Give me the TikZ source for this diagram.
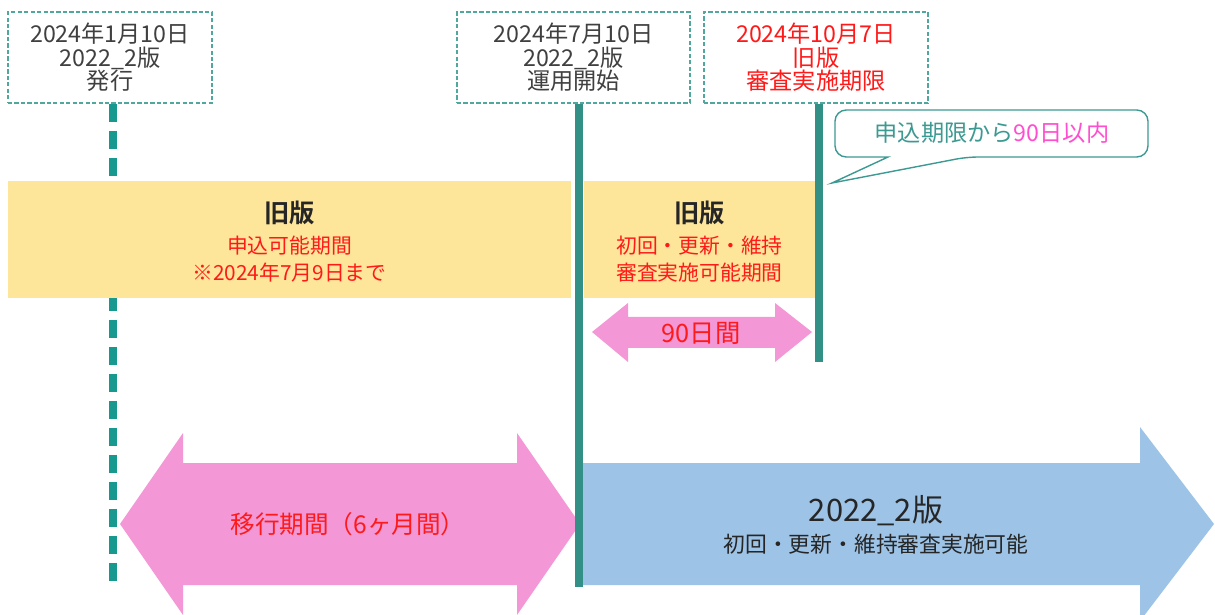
\documentclass[tikz,border=0pt]{standalone}
\usepackage{fontspec}
\setmainfont{Noto Sans CJK JP}[BoldFont={Noto Sans CJK JP Bold}]

\definecolor{boxteal}{HTML}{4FA79D}
\definecolor{dashteal}{HTML}{17998F}
\definecolor{lineteal}{HTML}{329086}
\definecolor{calloutteal}{HTML}{3D9A92}
\definecolor{oldyellow}{HTML}{FDE59A}
\definecolor{movepink}{HTML}{F397D6}
\definecolor{newblue}{HTML}{9DC3E6}
\definecolor{txtgray}{HTML}{404040}
\definecolor{txtred}{HTML}{FF1A1A}
\definecolor{txtmagenta}{HTML}{FF4FD0}

\begin{document}
\begin{tikzpicture}[x=0.025cm, y=-0.025cm,
  datebox/.style={draw=boxteal, line width=1pt, dash pattern=on 3pt off 1.6pt,
    fill=white, align=center, inner sep=0pt, text=txtgray,
    font=\fontsize{16.5pt}{16.8pt}\selectfont},
  oldbox/.style={fill=oldyellow, inner sep=0pt},
  oldtitle/.style={text=black!85, font=\fontsize{18pt}{20pt}\selectfont\bfseries},
  redtxt/.style={text=txtred, align=center, font=\fontsize{14.8pt}{19.2pt}\selectfont},
  dashline/.style={dashteal, line width=5pt, dash pattern=on 12.8pt off 6.4pt},
  solidline/.style={lineteal, line width=5pt},
  callout/.style={draw=calloutteal, line width=1pt, fill=white}]

%%%%%%%%%%%%%%%%%%%%%%
%%%	 Def géométrie  %%%
%%%%%%%%%%%%%%%%%%%%%%

\def \px{0.025cm}
\def \ytop{181}
\def \ybot{298}
\def \boxh{91}

\useasboundingbox (0,0) rectangle (1215,615);

%%%%%%%%%%%%%%%%%%%%%%
%%%	    Dates       %%%
%%%%%%%%%%%%%%%%%%%%%%

\node[datebox, minimum width=204*\px, minimum height=\boxh*\px] (issue) at (110,57.5)
  {2024年1月10日\\2022\_2版\\発行};
\node[datebox, minimum width=233*\px, minimum height=\boxh*\px] (start) at (573.5,57.5)
  {2024年7月10日\\2022\_2版\\運用開始};
\node[datebox, minimum width=224*\px, minimum height=\boxh*\px, text=txtred] (limit) at (816,57.5)
  {2024年10月7日\\旧版\\審査実施期限};

\coordinate (issueend) at (113,585);
\coordinate (startend) at (579,587);
\coordinate (limitend) at (819,362);

% ligne pointillée de la publication
\draw[dashline] (issue.south -| issueend) -- (issueend);

%%%%%%%%%%%%%%%%%%%%%%
%%%	    Périodes    %%%
%%%%%%%%%%%%%%%%%%%%%%

\node[oldbox, minimum width=563*\px, minimum height=117*\px] (oldapply) at (289.5,239.5) {};
\node[oldbox, minimum width=231*\px, minimum height=117*\px] (oldaudit) at (699.5,239.5) {};

% double flèche de 90 jours
\fill[movepink] (592,332) -- (628,303) -- (628,317) -- (775,317) -- (775,303) -- (812,332)
  -- (775,362) -- (775,348) -- (628,348) -- (628,362) -- cycle;

% double flèche de transition
\fill[movepink] (120,524) -- (183,433) -- (183,463) -- (517,463) -- (517,433) -- (580,524)
  -- (517,615) -- (517,585) -- (183,585) -- (183,615) -- cycle;

% flèche de la nouvelle version
\fill[newblue] (582,463) -- (1140,463) -- (1140,427) -- (1214,524)
  -- (1140,621) -- (1140,585) -- (582,585) -- cycle;

% lignes des dates
\draw[solidline] (start.south -| startend) -- (startend);
\draw[solidline] (limit.south -| limitend) -- (limitend);

%%%%%%%%%%%%%%%%%%%%%%
%%%	    Textes      %%%
%%%%%%%%%%%%%%%%%%%%%%

\node[oldtitle] (oldapplyt) at (289.5,213) {旧版};
\node[redtxt] (oldapplys) at (289.5,259) {申込可能期間\\※2024年7月9日まで};

\node[oldtitle] (oldauditt) at (699.5,213) {旧版};
\node[redtxt] (oldaudits) at (699.5,259) {初回・更新・維持\\審査実施可能期間};

\node[text=txtred, font=\fontsize{18pt}{20pt}\selectfont] (days) at (701,333) {90日間};
\node[text=txtred, font=\fontsize{17.5pt}{19pt}\selectfont] (move) at (348,524) {移行期間（6ヶ月間）};

\node[text=black!85, font=\fontsize{22pt}{24pt}\selectfont] (newt) at (876,511) {2022\_2版};
\node[text=black!85, font=\fontsize{15.5pt}{17pt}\selectfont] (news) at (876,544) {初回・更新・維持審査実施可能};

% bulle du délai
\coordinate (ptip) at (832,183);
\draw[callout] (888,157) [rounded corners=8] -- (835,157) -- (835,110) -- (1148,110)
  -- (1148,157) -- (967,157) [sharp corners] -- (ptip) -- cycle;
\node[font=\fontsize{16.5pt}{18pt}\selectfont] (delay) at (992,133)
  {\textcolor{calloutteal}{申込期限から}\textcolor{txtmagenta}{90日以内}};

%%%%%%%%%%%%%%%%%%%%%%%%%%%%%%%%%%%%%%%%%

\end{tikzpicture}
\end{document}
